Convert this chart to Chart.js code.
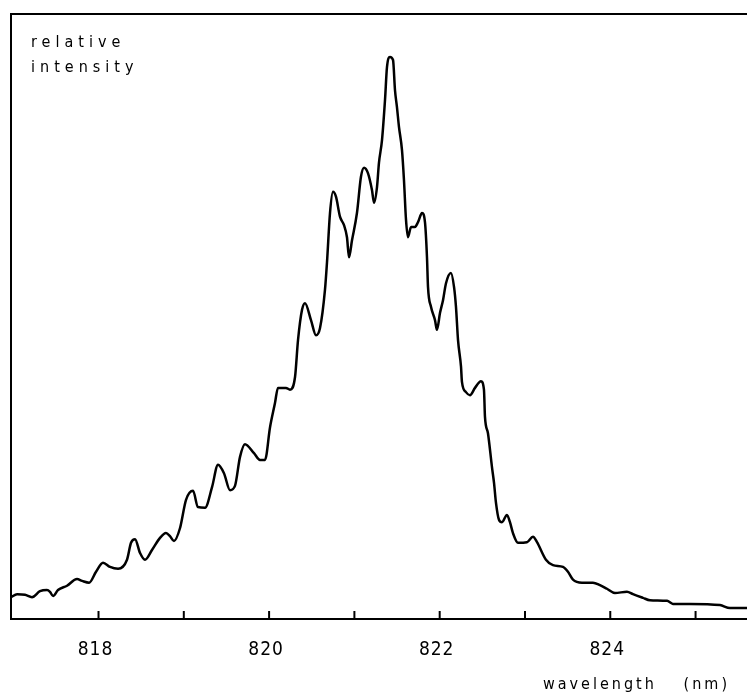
<!DOCTYPE html>
<html>
<head>
<meta charset="utf-8">
<script src="https://cdn.jsdelivr.net/npm/chart.js@4"></script>
<style>
  html, body { margin: 0; padding: 0; background: #fff; }
  #graf { display: block; }
</style>
</head>
<body>
<canvas id="graf" width="747" height="696"></canvas>
<script>
// wavelength (nm)
const wavelength = [
  816.974, 817.045, 817.138, 817.220, 817.314, 817.396, 817.431, 817.467, 817.525, 817.631,
  817.748, 817.807, 817.889, 817.971, 818.053, 818.135, 818.229, 818.334, 818.381, 818.428,
  818.487, 818.545, 818.627, 818.721, 818.791, 818.838, 818.885, 818.955, 819.026, 819.108,
  819.166, 819.249, 819.331, 819.401, 819.471, 819.542, 819.600, 819.659, 819.717, 819.823,
  819.893, 819.952, 820.011, 820.069, 820.104, 820.198, 820.245, 820.304, 820.339, 820.386,
  820.421, 820.491, 820.550, 820.597, 820.655, 820.679, 820.714, 820.749, 820.784, 820.831,
  820.878, 820.913, 820.937, 820.972, 821.030, 821.077, 821.113, 821.159, 821.206, 821.230,
  821.265, 821.288, 821.324, 821.359, 821.382, 821.417, 821.453, 821.476, 821.499, 821.523,
  821.558, 821.581, 821.605, 821.628, 821.664, 821.710, 821.746, 821.793, 821.828, 821.851,
  821.863, 821.898, 821.945, 821.968, 822.004, 822.039, 822.074, 822.132, 822.168, 822.191,
  822.215, 822.250, 822.261, 822.308, 822.355, 822.414, 822.484, 822.519, 822.531, 822.566,
  822.613, 822.637, 822.660, 822.695, 822.730, 822.789, 822.824, 822.859, 822.918, 823.023,
  823.094, 823.141, 823.246, 823.328, 823.446, 823.504, 823.563, 823.668, 823.797, 823.879,
  823.961, 824.055, 824.196, 824.266, 824.383, 824.465, 824.665, 824.735, 824.934, 825.286,
  825.403, 825.603
];
// relative intensity (arbitrary units, 0..100)
const intensity = [
  3.6, 4.1, 4.0, 3.6, 4.6, 4.8, 4.5, 3.8, 4.8, 5.5,
  6.6, 6.3, 6.0, 7.8, 9.3, 8.6, 8.3, 9.8, 12.6, 13.2,
  10.9, 9.8, 11.4, 13.4, 14.2, 13.7, 12.9, 15.0, 19.7, 21.2,
  18.5, 18.4, 21.8, 25.5, 24.1, 21.3, 22.0, 26.8, 28.9, 27.4,
  26.3, 26.3, 31.7, 35.7, 38.2, 38.2, 37.9, 40.0, 46.1, 51.1,
  52.2, 49.4, 46.9, 48.1, 54.4, 59.0, 67.1, 70.6, 69.8, 66.5,
  65.1, 63.1, 59.8, 62.6, 67.1, 73.1, 74.6, 73.7, 70.9, 68.8,
  71.4, 75.4, 79.2, 85.8, 91.2, 92.9, 92.4, 87.4, 84.6, 81.3,
  77.5, 72.6, 66.0, 63.1, 64.8, 64.8, 65.6, 67.1, 65.5, 59.8,
  54.9, 51.6, 49.4, 47.8, 50.6, 52.7, 55.5, 57.2, 54.9, 51.6,
  46.1, 41.7, 39.2, 37.5, 37.0, 38.2, 39.3, 37.9, 33.4, 30.7,
  25.1, 22.5, 19.2, 16.4, 16.0, 17.2, 16.0, 14.2, 12.6, 12.7,
  13.6, 12.7, 9.8, 8.9, 8.6, 7.8, 6.5, 6.0, 6.0, 5.6,
  5.0, 4.3, 4.5, 4.1, 3.5, 3.1, 3.0, 2.5, 2.5, 2.3,
  1.8, 1.8
];
const tickValues = [818, 819, 820, 821, 822, 823, 824, 825];
const tickLabels = ['818', '820', '822', '824'];
const xMin = 816.974, xMax = 825.603;

const marco = {
  id: 'marco',
  afterDraw(chart) {
    const { ctx, chartArea: a, scales: { x } } = chart;
    ctx.save();
    ctx.strokeStyle = '#000';
    ctx.lineWidth = 2;
    ctx.beginPath();
    ctx.moveTo(a.right, a.top); ctx.lineTo(a.left, a.top);
    ctx.lineTo(a.left, a.bottom); ctx.lineTo(a.right, a.bottom);
    ctx.stroke();
    // marcas hacia dentro
    tickValues.forEach(v => {
      const px = x.getPixelForValue(v);
      ctx.beginPath(); ctx.moveTo(px, a.bottom); ctx.lineTo(px, a.bottom - 8); ctx.stroke();
    });
    ctx.fillStyle = '#000';
    ctx.font = "19px 'Liberation Sans Narrow', 'DejaVu Sans Condensed', 'DejaVu Sans'";
    ctx.letterSpacing = '1px';
    ctx.textAlign = 'center';
    ctx.textBaseline = 'alphabetic';
    tickLabels.forEach(t => {
      ctx.fillText(t, x.getPixelForValue(parseFloat(t)) - 3, 655);
    });
    ctx.font = "16px 'Liberation Sans Narrow', 'DejaVu Sans Condensed', 'DejaVu Sans'";
    ctx.letterSpacing = '5px';
    ctx.textAlign = 'left';
    ctx.fillText('relative', 31, 47);
    ctx.fillText('intensity', 31, 72);
    ctx.letterSpacing = '3px';
    ctx.fillText('wavelength', 543, 689);
    ctx.textAlign = 'right';
    ctx.fillText('(nm)', 730, 689);
    ctx.restore();
  }
};

new Chart(document.getElementById('graf'), {
  type: 'line',
  data: {
    datasets: [{
      data: wavelength.map((w, i) => ({ x: w, y: intensity[i] })),
      borderColor: '#000',
      borderWidth: 2.5,
      pointRadius: 0,
      cubicInterpolationMode: 'monotone',
      fill: false
    }]
  },
  options: {
    responsive: false,
    animation: false,
    layout: { padding: { left: 11, top: 14, right: 0, bottom: 77 } },
    scales: {
      x: { type: 'linear', min: xMin, max: xMax, display: false },
      y: { min: 0, max: 100, display: false }
    },
    plugins: { legend: { display: false }, tooltip: { enabled: false } }
  },
  plugins: [marco]
});
</script>
</body>
</html>
